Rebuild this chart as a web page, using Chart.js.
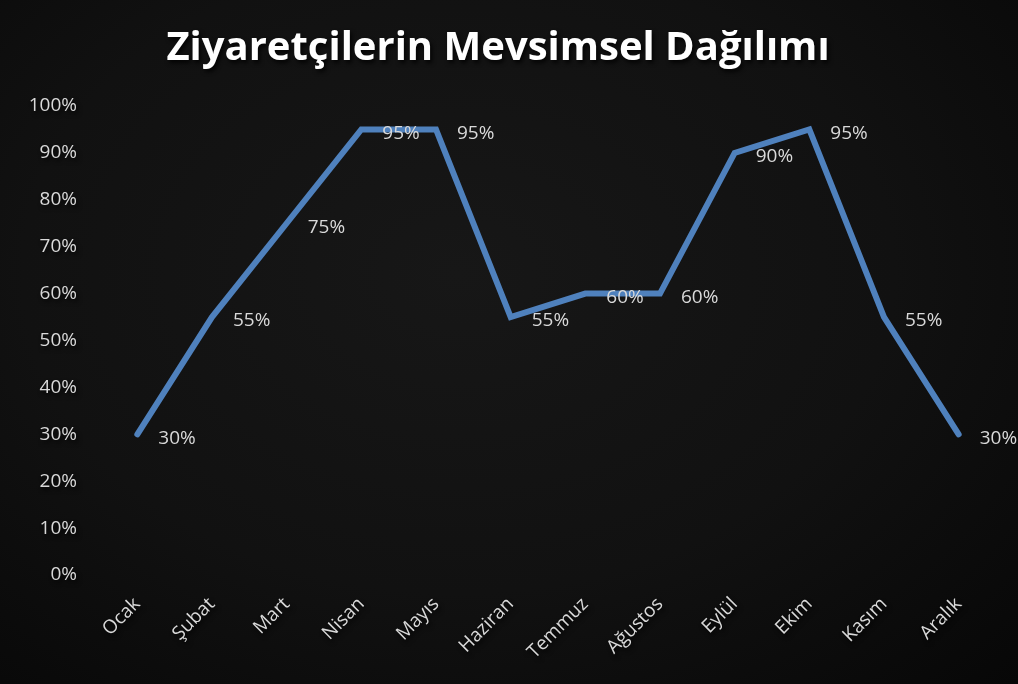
<!DOCTYPE html>
<html lang="tr">
<head>
<meta charset="utf-8">
<title>Ziyaretçilerin Mevsimsel Dağılımı</title>
<script src="https://cdn.jsdelivr.net/npm/chart.js@4"></script>
<style>
    html, body {
        margin: 0;
        padding: 0;
        background: #0b0b0b;
    }
    .chart-box {
        width: 1018px;
        height: 684px;
        background: radial-gradient(ellipse at 45% 40%, #171717 0%, #111111 55%, #070707 100%);
    }
</style>
</head>
<body>
<div class="chart-box">
    <canvas id="seasonChart" width="1018" height="684"></canvas>
</div>
<script>
// Months and visitor share (%) per month
const months = ['Ocak', 'Şubat', 'Mart', 'Nisan', 'Mayıs', 'Haziran',
    'Temmuz', 'Ağustos', 'Eylül', 'Ekim', 'Kasım', 'Aralık'];
const visitorShare = [30, 55, 75, 95, 95, 55, 60, 60, 90, 95, 55, 30];
const yTicks = [0, 10, 20, 30, 40, 50, 60, 70, 80, 90, 100];

const textColor = '#d9d9d9';
const fontFamily = "'Open Sans', 'Noto Sans', sans-serif";

// Percentage labels to the lower right of each point
const valueLabels = {
    id: 'valueLabels',
    afterDatasetsDraw(chart) {
        const ctx = chart.ctx;
        const meta = chart.getDatasetMeta(0);
        const values = chart.data.datasets[0].data;
        ctx.save();
        ctx.fillStyle = textColor;
        ctx.font = '19px ' + fontFamily;
        ctx.textAlign = 'left';
        ctx.textBaseline = 'middle';
        meta.data.forEach((pt, i) => {
            ctx.fillText(values[i] + '%', pt.x + 21, pt.y + 4);
        });
        ctx.restore();
    }
};

// Soft drop shadow behind the title text
const titleShadow = {
    id: 'titleShadow',
    beforeDraw(chart) {
        chart.ctx.save();
        chart.ctx.shadowColor = 'rgba(0, 0, 0, 0.8)';
        chart.ctx.shadowBlur = 4;
        chart.ctx.shadowOffsetX = 2;
        chart.ctx.shadowOffsetY = 3;
    },
    beforeDatasetsDraw(chart) {
        chart.ctx.restore();
    }
};

new Chart(document.getElementById('seasonChart'), {
    type: 'line',
    data: {
        labels: months,
        datasets: [{
            data: visitorShare,
            borderColor: '#4f81bd',
            borderWidth: 6,
            borderCapStyle: 'round',
            borderJoinStyle: 'miter',
            tension: 0,
            fill: false,
            pointRadius: 0,
            pointHoverRadius: 0
        }]
    },
    options: {
        responsive: false,
        animation: false,
        layout: {
            padding: { left: 0, right: 22, top: 0, bottom: 0 }
        },
        plugins: {
            legend: { display: false },
            tooltip: { enabled: false },
            title: {
                display: true,
                text: 'Ziyaretçilerin Mevsimsel Dağılımı',
                color: '#ffffff',
                font: { family: fontFamily, size: 40, weight: 'bold' },
                padding: { top: 25, bottom: 33 }
            }
        },
        scales: {
            x: {
                offset: true,
                grid: { display: false, drawTicks: false },
                border: { display: false },
                ticks: {
                    color: textColor,
                    font: { family: fontFamily, size: 19 },
                    maxRotation: 45,
                    minRotation: 45,
                    padding: 18,
                    autoSkip: false
                },
                afterFit(scale) {
                    scale.height = 109;
                }
            },
            y: {
                min: 0,
                max: 100,
                afterBuildTicks(scale) {
                    scale.ticks = yTicks.map(v => ({ value: v }));
                },
                grid: { display: false, drawTicks: false },
                border: { display: false },
                ticks: {
                    color: textColor,
                    font: { family: fontFamily, size: 19 },
                    padding: 23,
                    callback: v => v + '%'
                },
                afterFit(scale) {
                    scale.width = 100;
                }
            }
        }
    },
    plugins: [titleShadow, valueLabels]
});
</script>
</body>
</html>
